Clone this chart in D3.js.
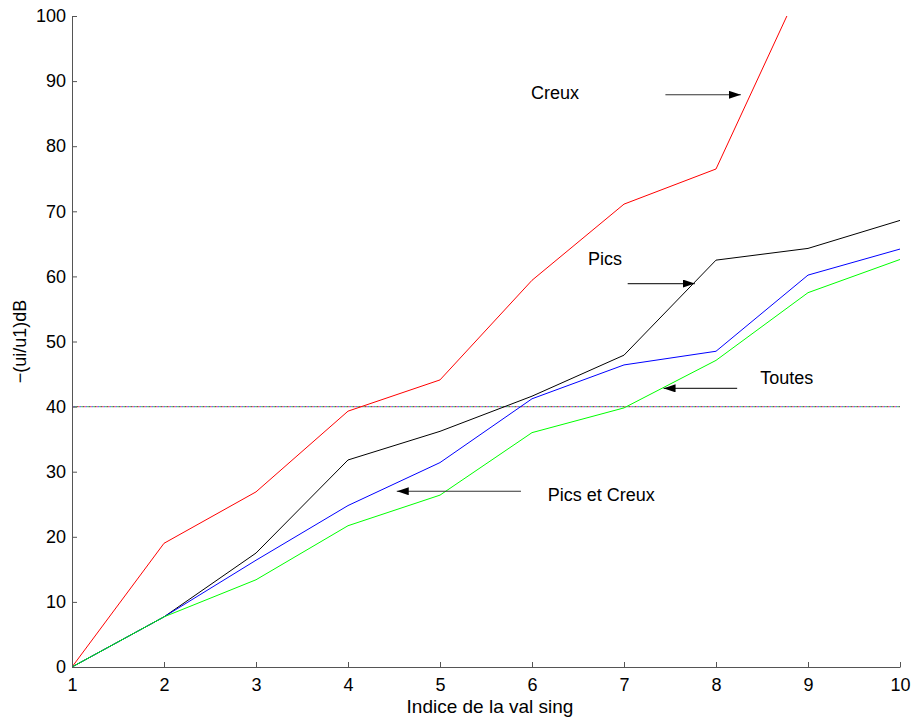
<!DOCTYPE html>
<html>
<head>
<meta charset="utf-8">
<script src="https://cdn.jsdelivr.net/npm/d3@7"></script>
<style>
  body { margin: 0; background: #fff; }
  text { font-family: "Liberation Sans", Arial, Helvetica, sans-serif; }
</style>
</head>
<body>
<svg id="chart" width="915" height="719"></svg>
<script>
const xValues = [1, 2, 3, 4, 5, 6, 7, 8, 9, 10];
const creux = [0, 19.0, 26.9, 39.3, 44.1, 59.4, 71.1, 76.5, 107, 118];
const pics = [0, 7.7, 17.5, 31.8, 36.2, 41.6, 47.9, 62.5, 64.3, 68.6];
const picsEtCreux = [0, 7.7, 16.4, 24.8, 31.4, 41.2, 46.4, 48.5, 60.2, 64.2];
const toutes = [0, 7.7, 13.4, 21.7, 26.4, 36.0, 39.8, 47.1, 57.5, 62.6];
const threshold = 40;
const xTicks = [1, 2, 3, 4, 5, 6, 7, 8, 9, 10];
const yTicks = [0, 10, 20, 30, 40, 50, 60, 70, 80, 90, 100];

const series = [
  { name: "Creux", values: creux, color: "#ff0000" },
  { name: "Pics", values: pics, color: "#000000" },
  { name: "Pics et Creux", values: picsEtCreux, color: "#0000ff" },
  { name: "Toutes", values: toutes, color: "#00ff00" }
];

// annotations: text anchor in data coords, arrow from/to in data coords
const annotations = [
  { label: "Creux", tx: 5.99, ty: 87.25, ax1: 7.45, ax2: 8.27, ay: 87.9 },
  { label: "Pics", tx: 6.61, ty: 61.7, ax1: 7.04, ax2: 7.77, ay: 58.9 },
  { label: "Toutes", tx: 8.48, ty: 43.5, ax1: 8.23, ax2: 7.43, ay: 42.8 },
  { label: "Pics et Creux", tx: 6.17, ty: 25.5, ax1: 5.88, ax2: 4.53, ay: 27.0 }
];

const svg = d3.select("#chart");
const x = d3.scaleLinear().domain([1, 10]).range([72, 900]);
const y = d3.scaleLinear().domain([0, 100]).range([667, 16]);

svg.append("defs").append("clipPath").attr("id", "clip")
  .append("rect").attr("x", 72).attr("y", 16).attr("width", 828).attr("height", 651);

const defs = svg.select("defs");
defs.append("marker").attr("id", "arrow")
  .attr("viewBox", "0 0 12 8").attr("refX", 12).attr("refY", 4)
  .attr("markerWidth", 12).attr("markerHeight", 8)
  .attr("markerUnits", "userSpaceOnUse").attr("orient", "auto")
  .append("path").attr("d", "M0,0 L12,4 L0,8 Z").attr("fill", "#000");

const plot = svg.append("g").attr("clip-path", "url(#clip)");

// threshold dotted line composed of several coloured dashes
const thColors = ["#ff0000", "#0000ff", "#00cc00", "#000000"];
thColors.forEach((c, i) => {
  plot.append("line")
    .attr("x1", x(1)).attr("x2", x(10))
    .attr("y1", y(threshold)).attr("y2", y(threshold))
    .attr("stroke", c).attr("stroke-width", 1.3)
    .attr("stroke-opacity", 0.6)
    .attr("stroke-dasharray", "1.5,4.5")
    .attr("stroke-dashoffset", -i * 1.5);
});

const line = d3.line().x((d, i) => x(xValues[i])).y(d => y(d));
series.forEach(s => {
  plot.append("path")
    .datum(s.values)
    .attr("d", line)
    .attr("fill", "none")
    .attr("stroke", s.color)
    .attr("stroke-width", 1);
});

// axes
const yAxis = d3.axisLeft(y).tickValues(yTicks).tickSizeInner(-5).tickSizeOuter(0).tickPadding(6);
const xAxis = d3.axisBottom(x).tickValues(xTicks).tickSizeInner(-5).tickSizeOuter(0).tickPadding(11);

const gy = svg.append("g").attr("transform", "translate(72,0)").call(yAxis);
const gx = svg.append("g").attr("transform", "translate(0,667)").call(xAxis);
[gx, gy].forEach(g => {
  g.select(".domain").attr("stroke", "#555");
  g.selectAll(".tick line").attr("stroke", "#555");
  g.selectAll(".tick text").attr("fill", "#000").style("font-size", "18px")
    .style("font-family", '"Liberation Sans", Arial, sans-serif');
});

// labels
svg.append("text")
  .attr("x", 490).attr("y", 713)
  .attr("text-anchor", "middle")
  .style("font-size", "19px")
  .text("Indice de la val sing");

svg.append("text")
  .attr("transform", `translate(26,${y(50)}) rotate(-90)`)
  .attr("text-anchor", "middle")
  .style("font-size", "18px")
  .text("\u2212(ui/u1)dB");

// annotations
annotations.forEach(a => {
  svg.append("text")
    .attr("x", x(a.tx)).attr("y", y(a.ty))
    .style("font-size", "18px")
    .text(a.label);
  svg.append("line")
    .attr("x1", x(a.ax1)).attr("x2", x(a.ax2))
    .attr("y1", y(a.ay)).attr("y2", y(a.ay))
    .attr("stroke", "#333").attr("stroke-width", 1.2)
    .attr("marker-end", "url(#arrow)");
});
</script>
</body>
</html>
